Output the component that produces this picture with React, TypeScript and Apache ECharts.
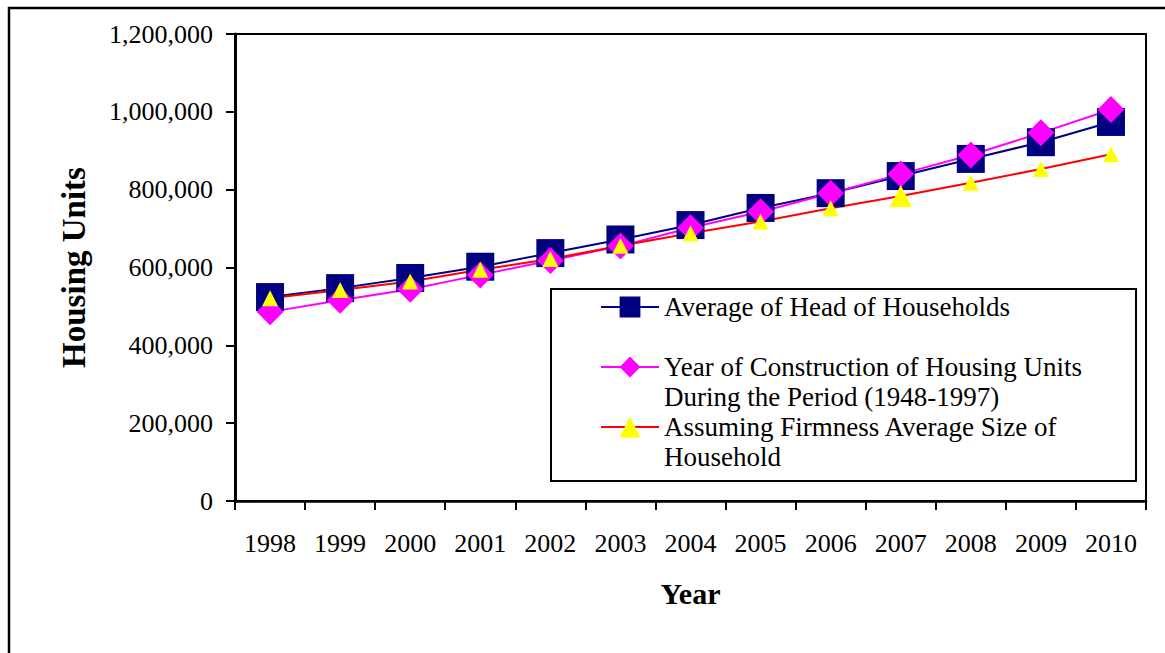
import React, { useEffect, useRef } from "react";
import * as echarts from "echarts";

const years = ["1998", "1999", "2000", "2001", "2002", "2003", "2004", "2005", "2006", "2007", "2008", "2009", "2010"];
const headOfHouseholds = [524000, 547000, 573000, 602000, 637000, 672000, 709000, 753000, 791000, 835000, 879000, 922000, 974000];
const constructionYear = [486000, 516000, 544000, 581000, 618000, 655000, 702000, 743000, 791000, 840000, 889000, 946000, 1006000];
const firmHouseholdSize = [521000, 542000, 564000, 594000, 622000, 656000, 688000, 718000, 752000, 784000, 818000, 853000, 891000];

const seriesNames = [
  "Average of Head of Households",
  "Year of Construction of Housing Units During the Period (1948-1997)",
  "Assuming Firmness Average Size of Household",
];
const legendLabels = [
  "Average of Head of Households",
  " \nYear of Construction of Housing Units\nDuring the Period (1948-1997)",
  " \nAssuming Firmness Average Size of\nHousehold",
];

const FONT = "'Liberation Serif', 'Times New Roman', Times, serif";

export default function App() {
  const ref = useRef<HTMLDivElement>(null);
  useEffect(() => {
    if (!ref.current) return;
    const chart = echarts.init(ref.current, null, { renderer: "svg" });
    const legendBase = (idx: number, top: number) => ({
      data: [{ name: seriesNames[idx] }],
      formatter: () => legendLabels[idx],
      left: 600,
      top,
      orient: "vertical",
      itemWidth: 58,
      itemHeight: 26,
      itemGap: 0,
      padding: 0,
      z: 5,
      selectedMode: false,
      textStyle: {
        fontSize: 27,
        fontFamily: FONT,
        color: "#000",
        lineHeight: 30,
      },
    });
    chart.setOption({
      animation: false,
      backgroundColor: "#fff",
      textStyle: { fontFamily: FONT },
      grid: {
        left: 235,
        top: 34,
        width: 911,
        height: 467,
        show: true,
        borderColor: "#000",
        borderWidth: 2,
        backgroundColor: "transparent",
      },
      xAxis: {
        type: "category",
        data: years,
        boundaryGap: true,
        axisLine: { lineStyle: { color: "#000", width: 2.5 } },
        axisTick: { show: true, length: 9, alignWithLabel: false, lineStyle: { color: "#000", width: 2 } },
        axisLabel: { fontSize: 26, color: "#000", fontFamily: FONT, margin: 29, interval: 0 },
        splitLine: { show: false },
        name: "Year",
        nameLocation: "middle",
        nameGap: 77,
        nameTextStyle: { fontSize: 30, fontWeight: "bold", fontFamily: FONT, color: "#000" },
      },
      yAxis: {
        type: "value",
        min: 0,
        max: 1200000,
        interval: 200000,
        axisLine: { show: true, lineStyle: { color: "#000", width: 3 } },
        axisTick: { show: true, length: 9, lineStyle: { color: "#000", width: 2 } },
        axisLabel: {
          fontSize: 26,
          color: "#000",
          fontFamily: FONT,
          margin: 22,
          formatter: (v: number) => v.toLocaleString("en-US"),
        },
        splitLine: { show: false },
        name: "Housing Units",
        nameLocation: "middle",
        nameGap: 145,
        nameTextStyle: { fontSize: 33, fontWeight: "bold", fontFamily: FONT, color: "#000" },
      },
      legend: [legendBase(0, 292), legendBase(1, 322), legendBase(2, 382)],
      graphic: [
        {
          type: "rect",
          z: 1,
          shape: { x: 9, y: 8, width: 1200, height: 700 },
          style: { fill: "none", stroke: "#000", lineWidth: 2.5 },
        },
        {
          type: "rect",
          z: 3,
          shape: { x: 551, y: 289, width: 585, height: 192 },
          style: { fill: "#fff", stroke: "#000", lineWidth: 2 },
        },
      ],
      series: [
        {
          name: seriesNames[0],
          type: "line",
          data: headOfHouseholds,
          symbol: "rect",
          symbolSize: 28,
          lineStyle: { color: "#000080", width: 2 },
          itemStyle: { color: "#000080" },
        },
        {
          name: seriesNames[1],
          type: "line",
          data: constructionYear,
          symbol: "diamond",
          symbolSize: 27,
          lineStyle: { color: "#FF00FF", width: 2 },
          itemStyle: { color: "#FF00FF" },
        },
        {
          name: seriesNames[2],
          type: "line",
          data: firmHouseholdSize,
          symbol: "triangle",
          symbolSize: (_v: number, p: any) => (p.dataIndex === 9 ? 22 : 16),
          lineStyle: { color: "#FF0000", width: 2 },
          itemStyle: { color: "#FFFF00" },
        },
      ],
    });
    return () => chart.dispose();
  }, []);
  return (
    <div
      ref={ref}
      style={{ position: "fixed", left: 0, top: 0, width: 1165, height: 653 }}
    />
  );
}
